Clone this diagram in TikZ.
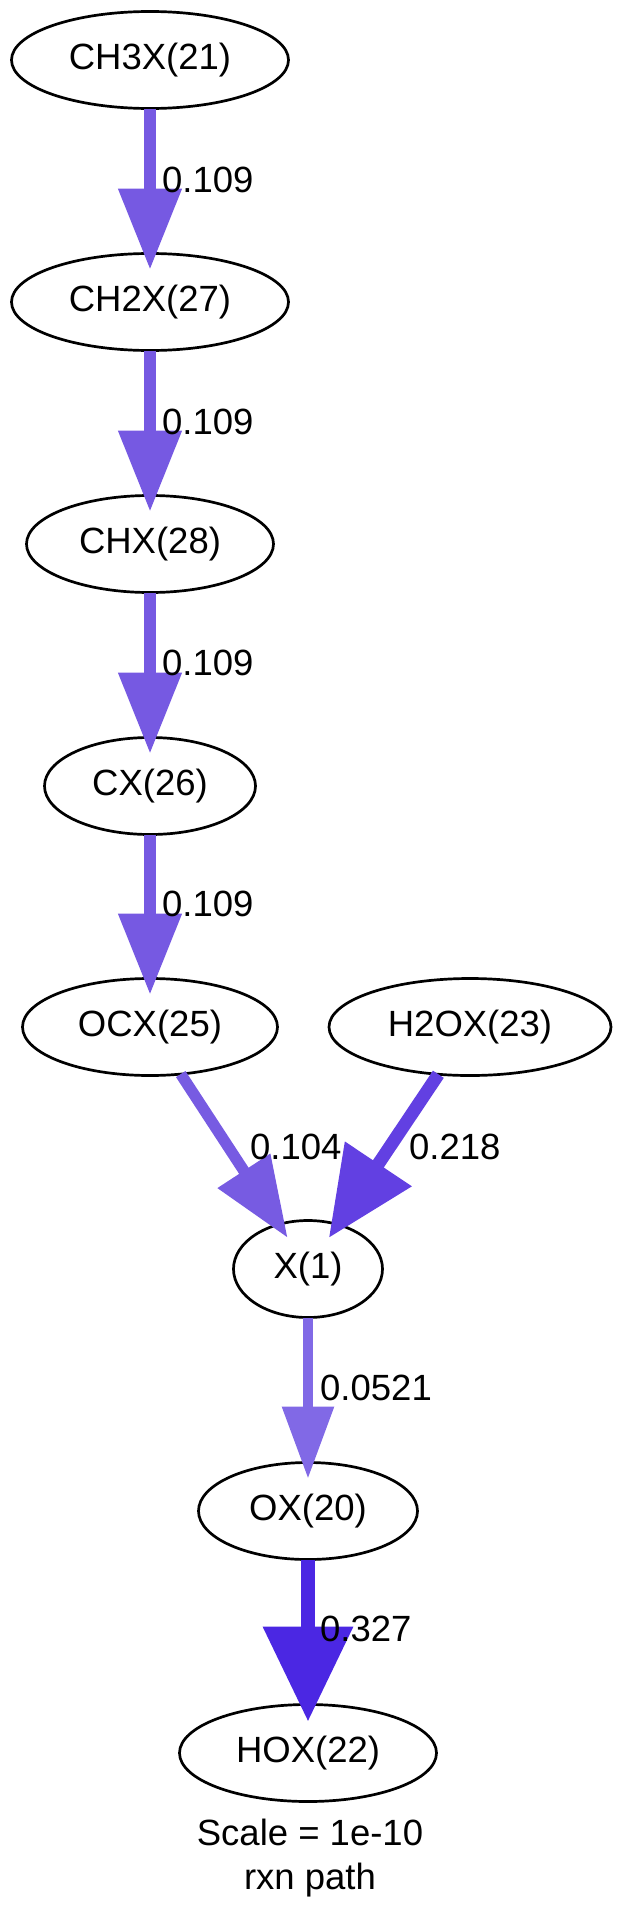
\documentclass[tikz,border=0pt]{standalone}
\usepackage{fontspec}
\setmainfont{Liberation Sans}
\usetikzlibrary{shapes.geometric,arrows.meta}
\definecolor{cA}{HTML}{7659E2}
\definecolor{cB}{HTML}{775BE2}
\definecolor{cC}{HTML}{6240E2}
\definecolor{cD}{HTML}{8169E6}
\definecolor{cE}{HTML}{4B27E3}
\begin{document}
\begin{tikzpicture}[x=1pt,y=-1pt,
  species/.style={draw=black, line width=2.7pt, ellipse, inner sep=0pt, outer sep=0pt,
    minimum height=97pt, font=\fontsize{36.5}{44}\selectfont},
  flux/.style={font=\fontsize{36.5}{44}\selectfont, anchor=west, inner sep=0pt},
  eA/.style={draw=cA, line width=11.5pt, -{Triangle[width=61pt,length=81pt]}, shorten >=-16pt},
  eB/.style={draw=cB, line width=11.3pt, -{Triangle[width=60pt,length=80pt]}, shorten >=-16pt},
  eC/.style={draw=cC, line width=13pt, -{Triangle[width=77pt,length=89pt]}, shorten >=-16pt},
  eD/.style={draw=cD, line width=9.3pt, -{Triangle[width=50pt,length=72pt]}, shorten >=-16pt},
  eE/.style={draw=cE, line width=14pt, -{Triangle[width=87pt,length=95pt]}, shorten >=-17pt},
  ]
\useasboundingbox (0,0) rectangle (622,1919);
\node[species, minimum width=277pt] (ch3x) at (150,60) {CH3X(21)};
\node[species, minimum width=277pt] (ch2x) at (150,302) {CH2X(27)};
\node[species, minimum width=247pt] (chx) at (150,544) {CHX(28)};
\node[species, minimum width=211pt] (cx) at (150,786) {CX(26)};
\node[species, minimum width=255pt] (ocx) at (150,1027) {OCX(25)};
\node[species, minimum width=282pt] (h2ox) at (470,1027) {H2OX(23)};
\node[species, minimum width=149pt] (x1) at (308,1269) {X(1)};
\node[species, minimum width=219pt] (ox) at (308,1511) {OX(20)};
\node[species, minimum width=257pt] (hox) at (308,1753) {HOX(22)};
\draw[eA] (ch3x) -- (ch2x);
\draw[eA] (ch2x) -- (chx);
\draw[eA] (chx) -- (cx);
\draw[eA] (cx) -- (ocx);
\draw[eB] (ocx) -- (x1);
\draw[eC] (h2ox) -- (x1);
\draw[eD] (x1) -- (ox);
\draw[eE] (ox) -- (hox);
\node[flux] (l1) at (162,180) {0.109};
\node[flux] (l2) at (162,422) {0.109};
\node[flux] (l3) at (162,663) {0.109};
\node[flux] (l4) at (162,904) {0.109};
\node[flux] (l5) at (250,1147) {0.104};
\node[flux] (l6) at (409,1147) {0.218};
\node[flux] (l7) at (320,1388) {0.0521};
\node[flux] (l8) at (320,1629) {0.327};
\node[font=\fontsize{36.5}{44}\selectfont, anchor=base, inner sep=0pt] (scale) at (310,1845) {Scale = 1e-10};
\node[font=\fontsize{36.5}{44}\selectfont, anchor=base, inner sep=0pt] (title) at (310,1889) {rxn path};
\end{tikzpicture}
\end{document}
